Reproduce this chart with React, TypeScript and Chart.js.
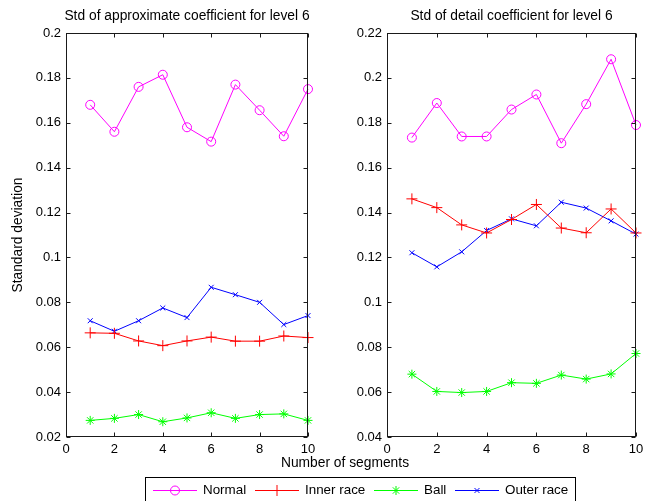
import React, { useEffect, useRef } from 'react';
import { Chart, registerables } from 'chart.js';

Chart.register(...registerables);

// ---------- data ----------
const segments = [1, 2, 3, 4, 5, 6, 7, 8, 9, 10];
const xTicks = [0, 2, 4, 6, 8, 10];
const yTicksApprox = [0.02, 0.04, 0.06, 0.08, 0.1, 0.12, 0.14, 0.16, 0.18, 0.2];
const yTicksDetail = [0.04, 0.06, 0.08, 0.1, 0.12, 0.14, 0.16, 0.18, 0.2, 0.22];

const approxNormal = [0.168, 0.156, 0.176, 0.1814, 0.158, 0.1516, 0.177, 0.1656, 0.154, 0.175];
const approxInner = [0.0664, 0.0662, 0.0628, 0.0607, 0.0628, 0.0645, 0.0627, 0.0627, 0.065, 0.0643];
const approxBall = [0.0274, 0.0283, 0.03, 0.0268, 0.0285, 0.0308, 0.0283, 0.03, 0.0303, 0.0274];
const approxOuter = [0.0718, 0.0671, 0.0718, 0.0775, 0.0732, 0.0867, 0.0834, 0.08, 0.0701, 0.0741];

const detailNormal = [0.1734, 0.1888, 0.1739, 0.1739, 0.1859, 0.1926, 0.1709, 0.1883, 0.2083, 0.179];
const detailInner = [0.1461, 0.1422, 0.1345, 0.1309, 0.1369, 0.1436, 0.1331, 0.131, 0.1416, 0.1309];
const detailBall = [0.068, 0.0603, 0.0598, 0.0603, 0.0642, 0.0639, 0.0676, 0.0658, 0.0681, 0.0772];
const detailOuter = [0.1221, 0.1158, 0.1225, 0.132, 0.1372, 0.1341, 0.1446, 0.142, 0.1363, 0.1304];

const seriesNames = ['Normal', 'Inner race', 'Ball', 'Outer race'];
const seriesColors = ['#ff00ff', '#ff0000', '#00ff00', '#0000ff'];
const seriesMarkers = ['circle', 'cross', 'star', 'crossRot'];
const markerRadius = [4.5, 5.5, 4.5, 3.5];
const legendItemX = [153, 255, 374, 455];

const titleApprox = 'Std of approximate coefficient for level 6';
const titleDetail = 'Std of detail coefficient for level 6';
const yLabel = 'Standard deviation';
const xLabel = 'Number of segments';

const FONT = '"Liberation Sans", Arial, sans-serif';

function drawMarker(ctx: CanvasRenderingContext2D, style: string, x: number, y: number, r: number) {
  ctx.beginPath();
  if (style === 'circle') {
    ctx.arc(x, y, r, 0, Math.PI * 2);
  } else {
    if (style === 'cross' || style === 'star') {
      ctx.moveTo(x - r, y); ctx.lineTo(x + r, y);
      ctx.moveTo(x, y - r); ctx.lineTo(x, y + r);
    }
    if (style === 'crossRot' || style === 'star') {
      const d = r * Math.SQRT1_2;
      ctx.moveTo(x - d, y - d); ctx.lineTo(x + d, y + d);
      ctx.moveTo(x - d, y + d); ctx.lineTo(x + d, y - d);
    }
  }
  ctx.stroke();
}

const framePlugin = {
  id: 'frame',
  afterDraw(chart: any, _args: any, opts: any) {
    const { ctx, chartArea } = chart;
    const { left, right, top, bottom } = chartArea;
    ctx.save();
    ctx.strokeStyle = '#1a1a1a';
    ctx.lineWidth = 1;
    const L = Math.round(left) + 0.5, R = Math.round(right) - 0.5;
    const T = Math.round(top) + 0.5, B = Math.round(bottom) - 0.5;
    ctx.strokeRect(L, T, R - L, B - T);
    const tl = 4;
    ctx.beginPath();
    const xs = chart.scales.x;
    xTicks.forEach((t) => {
      const px = Math.round(xs.getPixelForValue(t)) + 0.5;
      ctx.moveTo(px, B); ctx.lineTo(px, B - tl);
      ctx.moveTo(px, T); ctx.lineTo(px, T + tl);
    });
    const ys = chart.scales.y;
    (opts.yTicks as number[]).forEach((t) => {
      const py = Math.round(ys.getPixelForValue(t)) + 0.5;
      ctx.moveTo(L, py); ctx.lineTo(L + tl, py);
      ctx.moveTo(R, py); ctx.lineTo(R - tl, py);
    });
    ctx.stroke();

    // title
    ctx.fillStyle = '#000';
    ctx.font = `13.8px ${FONT}`;
    ctx.textAlign = 'center';
    ctx.textBaseline = 'middle';
    ctx.fillText(opts.title, (left + right) / 2, 16);

    if (opts.withLegend) {
      // y label
      ctx.save();
      ctx.translate(18, 235);
      ctx.rotate(-Math.PI / 2);
      ctx.fillText(yLabel, 0, 0);
      ctx.restore();
      // x label
      ctx.fillText(xLabel, 345, 463);

      // legend
      ctx.strokeStyle = '#000';
      ctx.strokeRect(145.5, 477.5, 430, 30);
      ctx.textAlign = 'left';
      ctx.font = `13.4px ${FONT}`;
      const ly = 490.5;
      seriesNames.forEach((name, i) => {
        const x = legendItemX[i];
        ctx.strokeStyle = seriesColors[i];
        ctx.beginPath();
        ctx.moveTo(x, ly); ctx.lineTo(x + 44, ly);
        ctx.stroke();
        drawMarker(ctx, seriesMarkers[i], x + 22, ly, markerRadius[i]);
        ctx.fillStyle = '#000';
        ctx.fillText(name, x + 50, 490);
      });
    }
    ctx.restore();
  },
};

function makeDatasets(series: number[][]) {
  return series.map((vals, i) => ({
    label: seriesNames[i],
    data: segments.map((s, j) => ({ x: s, y: vals[j] })),
    borderColor: seriesColors[i],
    backgroundColor: 'transparent',
    borderWidth: 1,
    pointStyle: seriesMarkers[i] as any,
    pointRadius: markerRadius[i],
    pointBorderColor: seriesColors[i],
    pointBackgroundColor: 'transparent',
    pointBorderWidth: 1,
    tension: 0,
    clip: false as any,
  }));
}

function makeConfig(series: number[][], yTicks: number[], padL: number, padR: number, axisW: number, title: string, withLegend: boolean): any {
  return {
    type: 'line',
    data: { datasets: makeDatasets(series) },
    plugins: [framePlugin],
    options: {
      responsive: false,
      animation: false,
      devicePixelRatio: 1,
      events: [],
      layout: { padding: { left: padL, right: padR, top: 33, bottom: 0 } },
      plugins: {
        legend: { display: false },
        tooltip: { enabled: false },
        title: { display: false },
        frame: { yTicks, title, withLegend },
      },
      scales: {
        x: {
          type: 'linear',
          min: 0,
          max: 10,
          afterBuildTicks: (s: any) => { s.ticks = xTicks.map((v) => ({ value: v })); },
          ticks: { font: { family: FONT, size: 13 }, color: '#000', padding: 5, maxRotation: 0, autoSkip: false },
          grid: { display: false, drawTicks: false },
          border: { display: false },
          afterFit: (s: any) => { s.height = 64; },
        },
        y: {
          type: 'linear',
          min: yTicks[0],
          max: yTicks[yTicks.length - 1],
          afterBuildTicks: (s: any) => { s.ticks = yTicks.map((v) => ({ value: v })); },
          ticks: {
            font: { family: FONT, size: 13 },
            color: '#000',
            padding: 5,
            autoSkip: false,
            callback: (v: any) => String(+Number(v).toFixed(4)),
          },
          grid: { display: false, drawTicks: false },
          border: { display: false },
          afterFit: (s: any) => { s.width = axisW; },
        },
      },
    },
  };
}

export default function App() {
  const leftRef = useRef<HTMLCanvasElement>(null);
  const rightRef = useRef<HTMLCanvasElement>(null);

  useEffect(() => {
    const c1 = new Chart(leftRef.current!, makeConfig(
      [approxNormal, approxInner, approxBall, approxOuter], yTicksApprox, 0, 650 - 308, 66, titleApprox, true));
    const c2 = new Chart(rightRef.current!, makeConfig(
      [detailNormal, detailInner, detailBall, detailOuter], yTicksDetail, 347, 650 - 636, 40, titleDetail, false));
    return () => { c1.destroy(); c2.destroy(); };
  }, []);

  const cs: React.CSSProperties = { position: 'absolute', left: 0, top: 0, width: 650, height: 501 };
  return (
    <div style={{ position: 'fixed', left: 0, top: 0, width: 650, height: 501, background: '#fff' }}>
      <canvas ref={leftRef} width={650} height={501} style={cs} />
      <canvas ref={rightRef} width={650} height={501} style={cs} />
    </div>
  );
}
